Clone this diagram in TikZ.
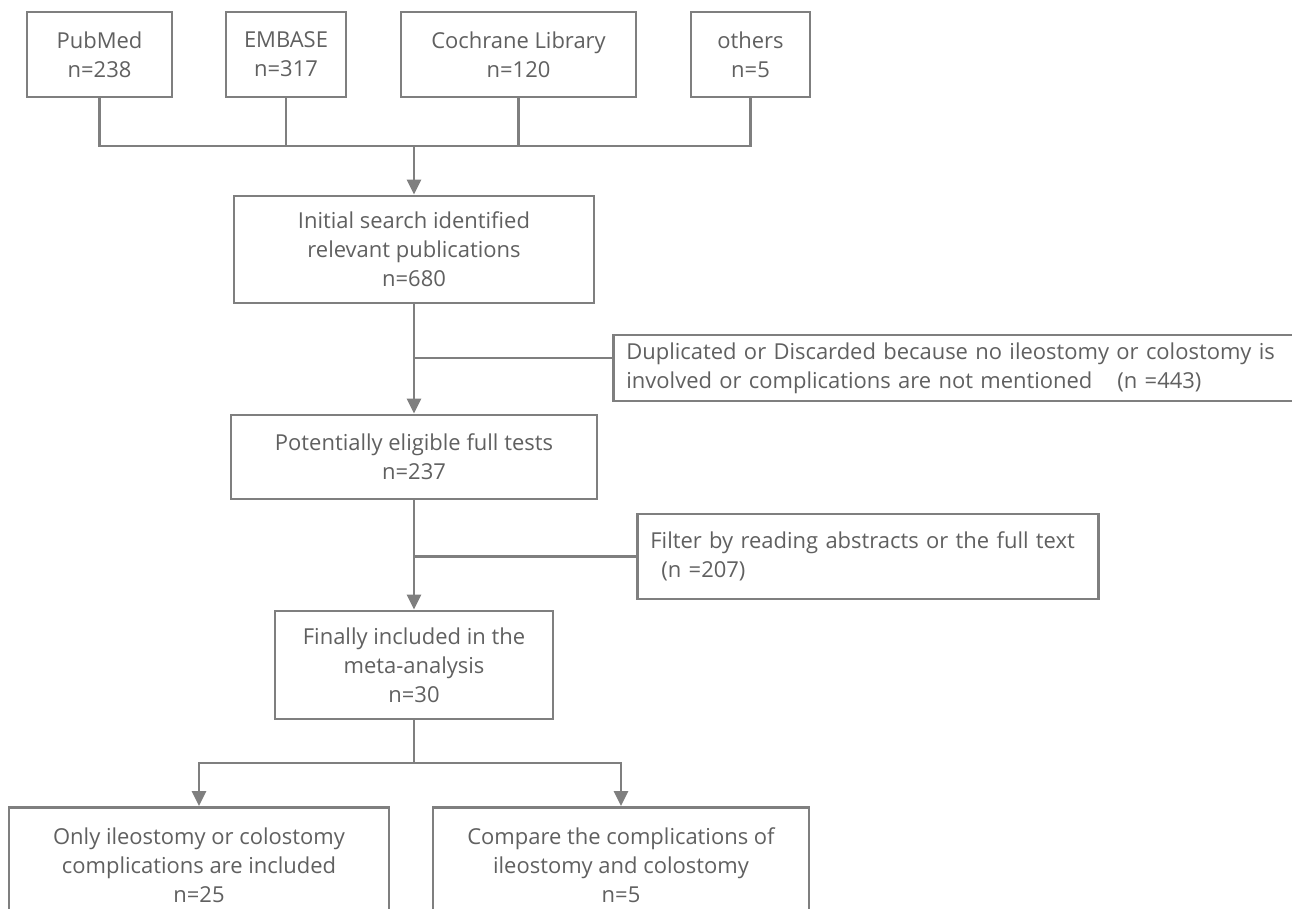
\documentclass[tikz,border=0pt]{standalone}
\usepackage{fontspec}
\setmainfont{Open Sans}
\usetikzlibrary{arrows.meta}
\definecolor{linegray}{HTML}{7F7F7F}
\definecolor{textgray}{HTML}{606060}

\begin{document}
\begin{tikzpicture}[
  x=0.02cm, y=-0.02cm,
  box/.style={rectangle, draw=linegray, line width=1.6pt, fill=white,
    text=textgray, align=center, inner sep=0pt,
    font=\fontsize{12.5}{16.5}\selectfont},
  sidebox/.style={box, align=left, inner xsep=0.26cm, anchor=west},
  line/.style={draw=linegray, line width=1.6pt},
  arr/.style={line, -{Triangle[length=0.3cm, width=0.28cm]}}
]
\useasboundingbox (0,0) rectangle (1292,909);
\clip (0,0) rectangle (1292,909);

% Databases
\node[box, minimum width=2.9cm, minimum height=1.7cm] (pubmed) at (99.5, 54.5) {PubMed\\n=238};
\node[box, minimum width=2.4cm, minimum height=1.7cm] (embase) at (286, 54.5) {EMBASE\\n=317};
\node[box, minimum width=4.7cm, minimum height=1.7cm] (cochrane) at (518.5, 54.5) {Cochrane Library\\n=120};
\node[box, minimum width=2.38cm, minimum height=1.7cm] (others) at (750.5, 54.5) {others\\n=5};

\coordinate (merge) at (414, 146);
\draw[line] (pubmed.south) |- (merge);
\draw[line] (others.south) |- (merge);
\draw[line] (embase.south) -- (embase.south |- merge);
\draw[line] (cochrane.south) -- (cochrane.south |- merge);

% Initial search
\node[box, minimum width=7.2cm, minimum height=2.14cm] (initial) at (414, 249.5) {Initial search identified\\relevant publications\\n=680};
\draw[arr] (merge) -- (initial.north);

% Excluded: duplicated / discarded
\node[sidebox, text width=14cm, minimum height=1.32cm] (dup) at (612, 368)
  {Duplicated or Discarded because no ileostomy or colostomy is\\involved or complications are not mentioned\hspace{0.5cm}(n =443)};
\coordinate (dupin) at ([yshift=0.2cm]dup.west);

% Full texts
\node[box, minimum width=7.32cm, minimum height=1.68cm] (fulltext) at (414, 457) {Potentially eligible full tests\\n=237};
\draw[arr] (initial.south) -- (fulltext.north);
\draw[line] (dupin) -- (initial.south |- dupin);

% Excluded: filter
\node[sidebox, text width=8.7cm, minimum height=1.7cm] (filter) at (636, 556.5)
  {Filter by reading abstracts or the full text\\\hspace*{0.22cm}(n =207)};

% Included
\node[box, minimum width=5.56cm, minimum height=2.16cm] (final) at (414, 665) {Finally included in the\\meta-analysis\\n=30};
\draw[arr] (fulltext.south) -- (final.north);
\draw[line] (filter.west) -- (fulltext.south |- filter.west);

% Subgroups
\node[box, anchor=north, minimum width=7.6cm, minimum height=2.3cm] (single) at (199, 806) {Only ileostomy or colostomy\\complications are included\\n=25};
\node[box, anchor=north, minimum width=7.52cm, minimum height=2.3cm] (compare) at (621, 806) {Compare the complications of\\ileostomy and colostomy\\n=5};

\coordinate (split) at (414, 763);
\draw[line] (final.south) -- (split);
\draw[arr] (split) -| (single.north);
\draw[arr] (split) -| (compare.north);

\end{tikzpicture}
\end{document}
